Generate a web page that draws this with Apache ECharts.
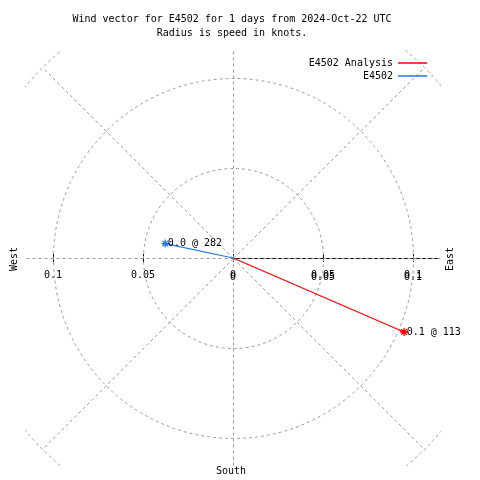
<!DOCTYPE html>
<html><head><meta charset="utf-8">
<script src="https://cdn.jsdelivr.net/npm/echarts@6/dist/echarts.min.js"></script>
<style>html,body{margin:0;padding:0;background:#fff}#chart{width:480px;height:480px}</style>
</head><body><div id="chart"></div>
<script>
// ---- data ----
const titleLines = ['Wind vector for E4502 for 1 days from 2024-Oct-22 UTC', 'Radius is speed in knots.'];
const seriesNames = ['E4502 Analysis', 'E4502'];
const speeds = [0.1035, 0.0385];       // knots
const directions = [113.4, 282];       // degrees, compass
const ringRadii = [0.05, 0.1, 0.15];   // knots
const spokeAngles = [0, 45, 90, 135, 180, 225, 270, 315];
const tickValues = [-0.1, -0.05, 0, 0.05, 0.1];
const radialTickValues = [0, 0.05, 0.1];

// ---- layout / style ----
const FONT = 'DejaVu Sans Mono';
const CX = 233, CY = 258;
const PX_PER_01 = 180;          // pixels for 0.1 kt
const HALF = 208;               // half-size of plot square in px
const EXT = 0.1 * HALF / PX_PER_01;
const RAX_PX = 205;
const RAX = 0.1 * RAX_PX / PX_PER_01;
const SPOKE_LEN = ringRadii[ringRadii.length - 1];
const GRID_COLOR = '#9a9a9a';
const colors = ['#ff0000', '#1e78e6'];
const ASTERISK = 'path://M0,5L10,5M5,0L5,10M1.6,1.6L8.4,8.4M8.4,1.6L1.6,8.4';

const chart = echarts.init(document.getElementById('chart'), null, {renderer: 'canvas'});

const fullGrid = {left: CX - HALF, top: CY - HALF, width: 2 * HALF, height: 2 * HALF};
const upperGrid = {left: CX - HALF, top: CY - HALF, width: 2 * HALF, height: HALF};
const rightGrid = {left: CX, top: CY - HALF, width: RAX_PX, height: HALF};

const labelFmt = v => String(Math.abs(+v.toFixed(3)));
const hiddenY = i => ({gridIndex: i, type: 'value', min: -EXT, max: EXT, show: false});

const option = {
  animation: false,
  textStyle: {fontFamily: FONT},
  graphic: [
    {type: 'text', x: 232, y: 13, silent: true,
     style: {text: titleLines.join('\n'), align: 'center', verticalAlign: 'top', fontFamily: FONT, fontSize: 10, lineHeight: 13.5, fill: '#000'}},
    {type: 'text', x: 14, y: 259, rotation: Math.PI / 2, silent: true,
     style: {text: 'West', align: 'center', verticalAlign: 'middle', fontFamily: FONT, fontSize: 10, fill: '#000'}},
    {type: 'text', x: 450, y: 259, rotation: Math.PI / 2, silent: true,
     style: {text: 'East', align: 'center', verticalAlign: 'middle', fontFamily: FONT, fontSize: 10, fill: '#000'}},
    {type: 'text', x: 231, y: 471, silent: true,
     style: {text: 'South', align: 'center', verticalAlign: 'middle', fontFamily: FONT, fontSize: 10, fill: '#000'}}
  ],
  legend: {
    data: seriesNames, orient: 'vertical', right: 53, top: 58, align: 'right', icon: 'rect',
    itemWidth: 29, itemHeight: 1.5, itemGap: 3, padding: 0, selectedMode: false,
    itemStyle: {borderWidth: 0},
    textStyle: {fontFamily: FONT, fontSize: 10, color: '#000'}
  },
  grid: [fullGrid, upperGrid, upperGrid, rightGrid],
  xAxis: [
    {gridIndex: 0, type: 'value', min: -EXT, max: EXT, show: false},
    {gridIndex: 1, type: 'value', min: -EXT, max: EXT, position: 'bottom',
     axisLine: {show: false, onZero: false},
     axisTick: {show: true, customValues: tickValues, length: 4, lineStyle: {color: '#000'}},
     axisLabel: {show: true, customValues: tickValues, formatter: labelFmt, margin: 12, color: '#000', fontFamily: FONT, fontSize: 10},
     splitLine: {show: false}},
    {gridIndex: 2, type: 'value', min: -EXT, max: EXT, position: 'bottom',
     axisLine: {show: false, onZero: false},
     axisTick: {show: true, inside: true, customValues: tickValues, length: 4, lineStyle: {color: '#000'}},
     axisLabel: {show: true, customValues: radialTickValues, formatter: labelFmt, margin: 14, color: '#000', fontFamily: FONT, fontSize: 10},
     splitLine: {show: false}},
    {gridIndex: 3, type: 'value', min: 0, max: RAX, position: 'bottom',
     axisLine: {show: true, onZero: false, lineStyle: {color: '#000', width: 1}},
     axisTick: {show: false}, axisLabel: {show: false}, splitLine: {show: false}}
  ],
  yAxis: [hiddenY(0), hiddenY(1), hiddenY(2), hiddenY(3)],
  polar: {center: [CX, CY], radius: HALF},
  angleAxis: {type: 'value', min: 0, max: 360, startAngle: 90, clockwise: true, show: false, splitLine: {show: false}},
  radiusAxis: {type: 'value', min: 0, max: EXT, show: false, splitLine: {show: false}},
  series: [
    {
      type: 'custom', name: 'rings', xAxisIndex: 0, yAxisIndex: 0, clip: true, silent: true, z: 1,
      data: ringRadii.map(r => [r]),
      renderItem(params, api) {
        const c = api.coord([0, 0]);
        const r = api.size([api.value(0), 0])[0];
        return {type: 'circle', shape: {cx: c[0] + 0.5, cy: c[1] + 0.5, r: r},
                style: {fill: 'none', stroke: GRID_COLOR, lineWidth: 1, lineDash: [3, 3]}};
      }
    },
    {
      type: 'custom', name: 'spokes', xAxisIndex: 0, yAxisIndex: 0, clip: true, silent: true, z: 1,
      data: spokeAngles.map(a => [a]),
      renderItem(params, api) {
        const a = api.value(0) * Math.PI / 180;
        const c = api.coord([0, 0]);
        const e = api.coord([SPOKE_LEN * Math.sin(a), SPOKE_LEN * Math.cos(a)]);
        return {type: 'line', shape: {x1: c[0] + 0.5, y1: c[1] + 0.5, x2: e[0] + 0.5, y2: e[1] + 0.5},
                style: {stroke: GRID_COLOR, lineWidth: 1, lineDash: [3, 3]}};
      }
    },
    ...seriesNames.map((name, i) => ({
      type: 'line', name: name, coordinateSystem: 'polar', polarIndex: 0,
      clip: false, z: 5, symbol: 'none', showSymbol: true,
      color: colors[i],
      lineStyle: {color: colors[i], width: 1.2},
      itemStyle: {color: colors[i], borderColor: colors[i], borderWidth: 1.3},
      label: {show: false},
      emphasis: {disabled: true},
      data: [
        {value: [0, directions[i]], symbol: 'none'},
        {value: [speeds[i], directions[i]], symbol: ASTERISK, symbolSize: 8,
         label: {show: true, position: 'right', distance: -2, color: '#000', fontFamily: FONT, fontSize: 10,
                 formatter: () => speeds[i].toFixed(1) + ' @ ' + Math.round(directions[i])}}
      ]
    }))
  ]
};
chart.setOption(option);
</script>
</body></html>
